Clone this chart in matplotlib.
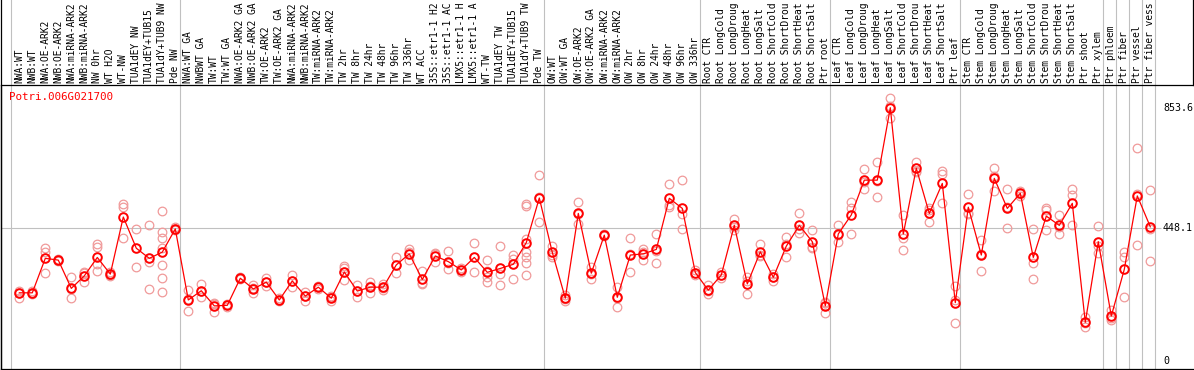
import matplotlib
matplotlib.use("Agg")
import matplotlib.pyplot as plt

gene_id = "Potri.006G021700"

# sample labels as displayed (header shows at most 14 characters)
sample_labels = [
    "NWA:WT", "NWB:WT", "NWA:OE-ARK2", "NWB:OE-ARK2", "NWA:miRNA-ARK2", "NWB:miRNA-ARK2",
    "NW 0hr", "WT H2O", "WT-NW", "TUA1dEY NW", "TUA1dEY+TUB15", "TUA1dY+TUB9 NW", "Pde NW",
    "NWA:WT GA", "NWBWT GA", "TW:WT", "TW:WT GA", "NWA:OE-ARK2 GA", "NWB:OE-ARK2 GA",
    "TW:OE-ARK2", "TW:OE-ARK2 GA", "NWA:miRNA-ARK2", "NWB:miRNA-ARK2", "TW:miRNA-ARK2",
    "TW:miRNA-ARK2", "TW 2hr", "TW 8hr", "TW 24hr", "TW 48hr", "TW 96hr", "TW 336hr",
    "WT ACC", "35S::etr1-1 H2", "35S::etr1-1 AC", "LMX5::etr1-1 H", "LMX5::etr1-1 A",
    "WT-TW", "TUA1dEY TW", "TUA1dEY+TUB15", "TUA1dY+TUB9 TW", "Pde TW",
    "OW:WT", "OW:WT GA", "OW:OE-ARK2", "OW:OE-ARK2 GA", "OW:miRNA-ARK2", "OW:miRNA-ARK2",
    "OW 2hr", "OW 8hr", "OW 24hr", "OW 48hr", "OW 96hr", "OW 336hr",
    "Root CTR", "Root LongCold", "Root LongDroug", "Root LongHeat", "Root LongSalt",
    "Root ShortCold", "Root ShortDrou", "Root ShortHeat", "Root ShortSalt", "Ptr root",
    "Leaf CTR", "Leaf LongCold", "Leaf LongDroug", "Leaf LongHeat", "Leaf LongSalt",
    "Leaf ShortCold", "Leaf ShortDrou", "Leaf ShortHeat", "Leaf ShortSalt", "Ptr leaf",
    "Stem CTR", "Stem LongCold", "Stem LongDroug", "Stem LongHeat", "Stem LongSalt",
    "Stem ShortCold", "Stem ShortDrou", "Stem ShortHeat", "Stem ShortSalt",
    "Ptr shoot", "Ptr xylem", "Ptr phloem", "Ptr fiber", "Ptr vessel", "Ptr fiber vess",
]

# index of last sample in each group (group separators drawn after these)
group_ends = [-1, 12, 40, 52, 62, 72, 83, 84, 85, 86, 87]

mean_values = [
    231, 231, 347, 341, 246, 288, 350, 294, 486, 381, 347, 368, 446,
    207, 238, 187, 189, 280, 244, 267, 207, 271, 220, 250, 213, 301, 237, 250, 250,
    325, 362, 276, 355, 336, 308, 350, 300, 313, 327, 400, 550,
    367, 213, 498, 297, 425, 216, 358, 362, 377, 549, 515, 299,
    240, 291, 458, 261, 369, 283, 388, 458, 403, 187,
    429, 493, 610, 610, 853.6, 429, 650, 498, 599, 198,
    519, 358, 616, 515, 566, 350, 489, 458, 532, 132, 403,
    153, 310, 557, 453,
]

replicate_values = [
    [238, 213, 231], [236, 229, 228], [383, 369, 299], [345, 339, 340],
    [283, 213, 244], [301, 266, 296], [395, 386, 328, 303], [291, 289, 300],
    [530, 519, 414], [445, 317], [458, 336, 243],
    [506, 435, 414, 383, 325, 280, 234], [453, 441, 445],
    [240, 170, 210], [261, 218, 236], [193, 168, 198], [193, 183, 190],
    [283, 277, 281], [257, 229, 246], [280, 255, 266], [213, 202, 207],
    [291, 250, 272], [235, 205, 221], [255, 245, 250], [219, 203, 216],
    [321, 313, 274, 300], [257, 216, 238], [266, 229, 253], [261, 242, 247],
    [353, 299, 323], [377, 341, 368], [304, 261, 265], [366, 334, 363],
    [371, 310, 330], [315, 301, 308], [397, 301], [340, 285, 268, 305],
    [388, 257, 294], [358, 345, 276], [530, 523, 411, 369, 353, 330, 290],
    [626, 470, 553],
    [390, 353, 358], [223, 205, 211], [536, 462, 496], [319, 277, 295],
    [428, 421, 426], [252, 182, 214], [414, 300, 360], [377, 341, 368],
    [429, 330, 372], [597, 526, 519], [610, 495, 445], [308, 290, 299],
    [257, 227, 237], [302, 280, 291], [478, 443, 453], [285, 227, 271],
    [395, 355, 357], [294, 271, 284], [418, 350, 396], [498, 431, 445],
    [442, 384, 383], [201, 164, 196],
    [459, 403, 425], [538, 515, 429], [646, 579, 603], [671, 552, 607],
    [885, 818, 858], [493, 414, 375], [671, 640, 639], [515, 468, 511],
    [642, 631, 532], [254, 207, 128],
    [562, 496, 499], [409, 304, 361], [650, 573, 625], [579, 448, 518],
    [575, 558, 565], [445, 330, 279], [517, 442, 508], [493, 429, 452],
    [579, 560, 458], [151, 117, 128], [456, 364, 389],
    [173, 140, 146], [367, 350, 216], [717, 392, 562], [577, 445, 337],
]

axis_labels = [853.6, 448.1, 0]
ref_line_value = 448.1

RED = "#ff0000"
PINK = "#f09a9a"
GRAY = "#c0c0c0"
FONT = "DejaVu Sans Mono"

W, H = 1194, 370
fig = plt.figure(figsize=(W / 100, H / 100), dpi=100)
# plot area: x pixels 1..1193, y pixels 85..369 (from top)
ax_left, ax_right, ax_top, ax_bottom = 1, 1193, 85, 369
ax = fig.add_axes([ax_left / W, (H - ax_bottom) / H,
                   (ax_right - ax_left) / W, (ax_bottom - ax_top) / H])

# data->pixel: x = 19.3 + 13*i ; y = 361.5 - 0.2973*v
x0_pix, dx_pix = 19.3, 13.0
y0_pix, sy = 361.5, 0.2973
ax.set_xlim((ax_left - x0_pix) / dx_pix, (ax_right - x0_pix) / dx_pix)
ax.set_ylim((y0_pix - ax_bottom) / sy, (y0_pix - ax_top) / sy)
ax.set_xticks([])
ax.set_yticks([])

header_frac = (ax_bottom - 0) / (ax_bottom - ax_top)

# group separators (extend through header)
for g in group_ends:
    ax.axvline(g + 0.36, ymin=0, ymax=header_frac, color=GRAY, lw=0.8,
               clip_on=False, zorder=1)

# reference horizontal line
ax.hlines(ref_line_value, ax.get_xlim()[0], (1161 - x0_pix) / dx_pix,
          color=GRAY, lw=0.8, zorder=1)

# replicates
n = len(mean_values)
for i, reps in enumerate(replicate_values):
    ax.plot([i] * len(reps), reps, linestyle="none", marker="o", ms=6.2,
            mfc="none", mec=PINK, mew=0.9, zorder=2)

xs = list(range(n))
ax.plot(xs, mean_values, color=RED, lw=0.9, zorder=3)
ax.plot(xs, mean_values, linestyle="none", marker="o", ms=6.2, mfc="none",
        mec=RED, mew=1.4, zorder=4)

# header labels
for i, lab in enumerate(sample_labels):
    ax.text(i, 1 + 2 / (ax_bottom - ax_top), lab, transform=ax.get_xaxis_transform(),
            rotation=90, ha="center", va="bottom", fontsize=6.9, family=FONT,
            color="black", clip_on=False)

# value labels on right
for v in axis_labels:
    lab = f"{v:g}" if v != 0 else "0"
    ax.text((1163 - x0_pix) / dx_pix, v, lab, ha="left", va="center",
            fontsize=7.2, family=FONT, color="black")

# gene name
ax.text((9.5 - x0_pix) / dx_pix, (y0_pix - 97) / sy, gene_id, ha="left", va="center",
        fontsize=7.8, family=FONT, color=RED)

# frame
for s in ["left", "bottom", "top"]:
    ax.spines[s].set_color("black")
    ax.spines[s].set_linewidth(0.9)
ax.spines["right"].set_visible(False)
xl = ax.get_xlim()
ax.axvline(xl[0], ymin=0, ymax=header_frac, color="black", lw=0.9, clip_on=False)
ax.axvline(xl[1], ymin=1, ymax=header_frac, color="black", lw=0.9, clip_on=False)

fig.savefig("out.png", dpi=100)
